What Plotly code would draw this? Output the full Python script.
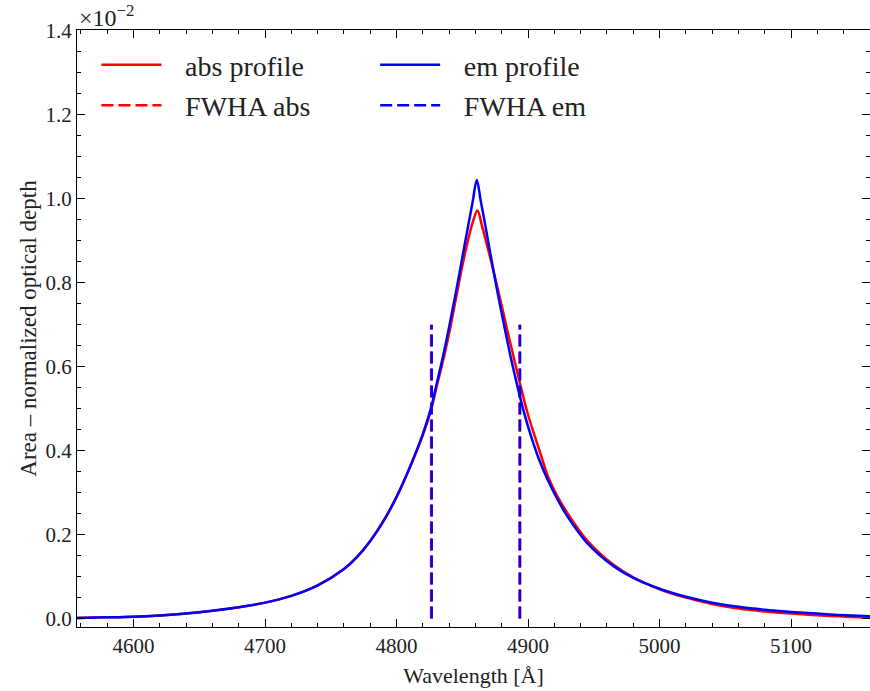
import plotly.graph_objects as go

# Line profiles, depth in units of 1e-2 (area-normalised optical depth)
wavelength_em = [4557, 4580, 4600, 4620, 4640, 4660, 4680, 4700, 4720, 4740,
                 4760, 4770, 4780, 4790, 4800, 4810, 4820, 4826.5, 4830, 4835,
                 4840, 4845, 4850, 4855, 4858, 4861, 4864, 4867, 4871, 4876,
                 4882, 4887, 4892, 4897, 4902, 4908, 4915, 4922, 4930, 4945,
                 4965, 4980, 5000, 5020, 5040, 5060, 5080, 5100, 5130, 5160]
depth_em = [0.0017, 0.003, 0.0045, 0.0075, 0.012, 0.0185, 0.027, 0.038, 0.054, 0.079,
            0.118, 0.147, 0.185, 0.232, 0.290, 0.360, 0.440, 0.505, 0.553, 0.620,
            0.695, 0.775, 0.860, 0.945, 0.995, 1.045, 0.995, 0.945, 0.875, 0.790,
            0.695, 0.620, 0.552, 0.490, 0.437, 0.382, 0.330, 0.286, 0.243, 0.180,
            0.125, 0.097, 0.071, 0.052, 0.038, 0.028, 0.021, 0.016, 0.010, 0.0055]

wavelength_abs = [4557, 4580, 4600, 4620, 4640, 4660, 4680, 4700, 4720, 4740,
                  4760, 4770, 4780, 4790, 4800, 4810, 4820, 4826.5, 4830, 4835,
                  4840, 4845, 4850, 4855, 4858, 4861.5, 4865, 4871, 4877, 4884,
                  4890, 4895, 4900, 4905, 4910, 4915, 4922, 4930, 4945, 4965,
                  4980, 5000, 5020, 5040, 5060, 5080, 5100, 5130, 5160]
depth_abs = [0.0017, 0.003, 0.0045, 0.0075, 0.012, 0.0185, 0.027, 0.038, 0.054, 0.079,
             0.118, 0.147, 0.185, 0.232, 0.290, 0.359, 0.437, 0.500, 0.546, 0.610,
             0.680, 0.760, 0.840, 0.910, 0.945, 0.972, 0.935, 0.862, 0.785, 0.690,
             0.610, 0.545, 0.485, 0.435, 0.387, 0.340, 0.293, 0.251, 0.186, 0.128,
             0.098, 0.070, 0.050, 0.035, 0.024, 0.017, 0.012, 0.006, 0.002]

# Full width at half area markers
fwha_abs = [4826.3, 4893.5]
fwha_em = [4826.7, 4893.9]
fwha_height = 0.7

RED = "#ff0000"
BLUE = "#0000ff"
FONT = "Liberation Serif"
GAP = "\u2002\u2006"


def vlines(xs, top):
    x, y = [], []
    for v in xs:
        x += [v, v, None]
        y += [0, top, None]
    return x, y


fig = go.Figure()
fig.add_trace(go.Scatter(x=wavelength_abs, y=depth_abs, mode="lines", name=GAP + "abs profile",
                         line=dict(color=RED, width=2.5, shape="spline", smoothing=1.0),
                         legend="legend", legendgroup="a1"))
xa, ya = vlines(fwha_abs, fwha_height)
fig.add_trace(go.Scatter(x=xa, y=ya, mode="lines", name=GAP + "FWHA abs",
                         line=dict(color=RED, width=2.5, dash="12px,5px"),
                         legend="legend", legendgroup="a2"))
fig.add_trace(go.Scatter(x=wavelength_em, y=depth_em, mode="lines", name=GAP + "em profile",
                         line=dict(color=BLUE, width=2.5, shape="spline", smoothing=1.0),
                         legend="legend2", legendgroup="e1"))
xe, ye = vlines(fwha_em, fwha_height)
fig.add_trace(go.Scatter(x=xe, y=ye, mode="lines", name=GAP + "FWHA em",
                         line=dict(color=BLUE, width=2.5, dash="12px,5px"),
                         legend="legend2", legendgroup="e2"))

axis_common = dict(
    showgrid=False, zeroline=False, showline=True, linecolor="black", linewidth=1.3,
    mirror="allticks", ticks="inside", ticklen=8, tickwidth=1.3, tickcolor="black",
    tickfont=dict(family=FONT, size=21, color="#222"),
)

fig.update_xaxes(
    **axis_common, range=[4557, 5160], tick0=4600, dtick=100,
    minor=dict(ticks="inside", ticklen=4, tickwidth=1, tickcolor="black", dtick=20, tick0=4600),
    title=dict(text="Wavelength [Å]", font=dict(family=FONT, size=22, color="#222"), standoff=10),
)
fig.update_yaxes(
    **axis_common, range=[-0.02, 1.402], tick0=0, dtick=0.2, tickformat=".1f",
    minor=dict(ticks="inside", ticklen=4, tickwidth=1, tickcolor="black", dtick=0.05, tick0=0),
    title=dict(text="Area – normalized optical depth", font=dict(family=FONT, size=23, color="#222"),
               standoff=2),
)

legend_common = dict(
    bgcolor="rgba(0,0,0,0)", font=dict(family=FONT, size=28, color="#222"),
    traceorder="grouped", tracegroupgap=1, itemwidth=60,
    xanchor="left", yanchor="top",
)

fig.update_layout(
    width=870, height=691,
    margin=dict(l=77, r=0, t=30, b=64),
    paper_bgcolor="white", plot_bgcolor="white",
    legend=dict(**legend_common, x=0.0245, y=0.983),
    legend2=dict(**legend_common, x=0.376, y=0.983),
    annotations=[dict(text="×10<sup>−2</sup>", xref="paper", yref="paper", x=0.0, y=1.0,
                      xanchor="left", yanchor="bottom", showarrow=False, yshift=-3,
                      font=dict(family=FONT, size=24, color="#222"))],
)

fig.write_html("out.html")
